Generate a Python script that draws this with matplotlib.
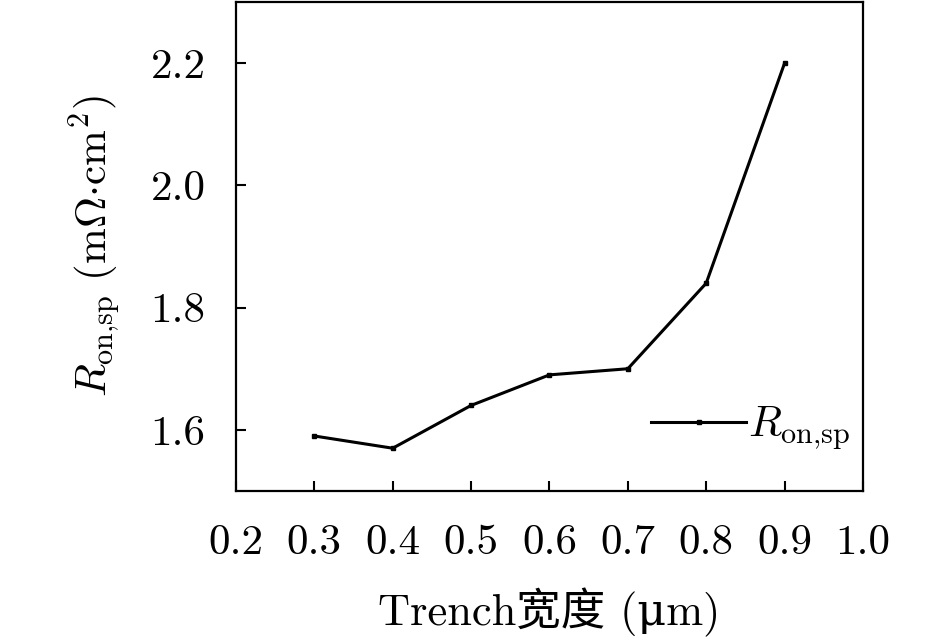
import matplotlib
matplotlib.use("Agg")
import matplotlib.pyplot as plt

plt.rcParams['font.family'] = ['cmr10', 'DejaVu Serif', 'Noto Sans CJK SC']
plt.rcParams['mathtext.fontset'] = 'cm'
plt.rcParams['axes.formatter.use_mathtext'] = True
plt.rcParams['axes.unicode_minus'] = False

# data
width = [0.3, 0.4, 0.5, 0.6, 0.7, 0.8, 0.9]
r_on = [1.59, 1.57, 1.64, 1.69, 1.70, 1.84, 2.20]

x_ticks = [0.2, 0.3, 0.4, 0.5, 0.6, 0.7, 0.8, 0.9, 1.0]
y_ticks = [1.6, 1.8, 2.0, 2.2]

fs = 31

fig = plt.figure(figsize=(9.45, 6.39), dpi=100)
ax = fig.add_axes([0.2497, 0.2316, 0.6635, 0.7653])

ax.plot(width, r_on, "-s", color="black", lw=2.2, ms=3.5,
        label=r"$R_{\mathrm{on{,}sp}}$")

ax.set_xlim(0.2, 1.0)
ax.set_ylim(1.5, 2.3)
ax.set_xticks(x_ticks, [f"{v:.1f}" for v in x_ticks])
ax.set_yticks(y_ticks, [f"{v:.1f}" for v in y_ticks])
ax.tick_params(direction="in", length=7, width=1.5, labelsize=fs,
               top=False, right=False)
ax.tick_params(axis="x", pad=24)
ax.tick_params(axis="y", pad=22)
for s in ax.spines.values():
    s.set_linewidth(1.6)

# make it nice
ax.set_xlabel("Trench宽度 (μm)", fontsize=32, labelpad=19)
ax.set_ylabel(r"$R_{\mathrm{on{,}sp}}\ (\mathrm{m}\Omega{\cdot}\mathrm{cm}^2)$",
              fontsize=fs, labelpad=20)
ax.legend(loc="lower right", frameon=False, fontsize=fs,
          bbox_to_anchor=(1.008, 0.044), handlelength=2.2, handletextpad=0.05,
          borderaxespad=0.0)

fig.savefig("out.png", dpi=100)
